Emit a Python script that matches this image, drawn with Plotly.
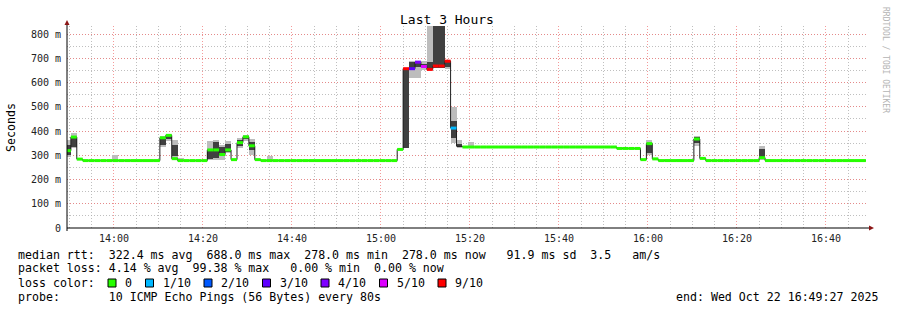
import plotly.graph_objects as go
import pandas as pd

# ---------------- data ----------------
FIRST_STEP = "2025-10-22 13:48:59"   # start of first 80 s consolidation step
RANGE_START = "2025-10-22 13:49:27"
RANGE_END = "2025-10-22 16:49:27"
STEP_S = 80

# median rtt per step (ms)
median_ms = (
    [319, 375, 284] + [278] * 13 +
    [372, 382, 286] + [278] * 5 +
    [322, 322, 303, 322, 282, 352, 376, 339, 282] + [278] * 23 +
    [324, 657, 657, 684, 666, 654, 668, 668, 688, 412, 337] +
    [334] * 26 + [328] * 4 +
    [282, 348, 285] + [278] * 6 + [367, 287] + [278] * 9 + [290] + [278] * 17
)
# packet loss per step in tenths (None = no colored median)
loss_tenths = [0] * 57 + [9, 3, 4, 5, 9, 9, 9, 9, 1, None] + [0] * 68

# smoke (ping spread) for steps that show it, ms
smoke_step = [0, 1, 8, 16, 17, 18, 19, 24, 25, 26, 27, 29, 30, 31, 34,
              57, 58, 59, 60, 61, 62, 63, 64, 65, 66, 68, 93, 98,
              101, 103, 105, 106, 117, 118]
smoke_lo = [293, 330, 282, 335, 360, 285, 279, 279, 282, 280, 308, 330, 357, 302, 279,
            331, 617, 619, 650, 654, 660, 660, 655, 351, 330, 335, 328, 299,
            279, 279, 279, 339, 282, 279]
smoke_hi = [364, 392, 299, 378, 388, 364, 290, 357, 364, 343, 357, 371, 385, 367, 295,
            657, 688, 690, 690, 840, 840, 840, 692, 500, 361, 355, 336, 361,
            285, 285, 285, 380, 339, 286]
core_lo = [302, 336, None, 343, 365, 295, None, 285, 290, 300, 315, 340, 365, 320, None,
           331, 660, 662, 658, 654, 660, 660, 662, 370, 333, None, None, 309,
           None, None, None, 350, 293, None]
core_hi = [343, 372, None, 368, 380, 343, None, 320, 355, 335, 345, 362, 380, 355, None,
           657, 684, 682, 678, 686, 840, 840, 688, 440, 345, None, None, 343,
           None, None, None, 375, 325, None]

loss_levels = [0, 1, 2, 3, 4, 5, 9]
loss_labels = ["0", "1/10", "2/10", "3/10", "4/10", "5/10", "9/10"]
loss_colors = ["#26ff00", "#00b8ff", "#0059ff", "#5e00ff", "#7e00ff", "#dd00ff", "#ff0000"]

y_tick_vals = [0, 0.1, 0.2, 0.3, 0.4, 0.5, 0.6, 0.7, 0.8]
y_tick_text = ["0", "100 m", "200 m", "300 m", "400 m", "500 m", "600 m", "700 m", "800 m"]

stats_rtt = ["322.4", "688.0", "278.0", "278.0", "91.9", "3.5"]
stats_loss = ["4.14", "99.38", "0.00", "0.00"]
probe_text = "10 ICMP Echo Pings (56 Bytes) every 80s"
end_text = "end: Wed Oct 22 16:49:27 2025"
title_text = "Last 3 Hours"

# ---------------- derived ----------------
n = len(median_ms)
starts = pd.date_range(FIRST_STEP, periods=n, freq=f"{STEP_S}s")
step_td = pd.Timedelta(seconds=STEP_S)
end_time = starts[-1] + step_td
step_ms = STEP_S * 1000
med_s = [v / 1000 for v in median_ms]

W, H = 897, 310
L, R, T, B = 67, 868, 26, 228
PW, PH = R - L, B - T


def px(x):
    return (x - L) / PW


def py(y):
    return (B - y) / PH


MONO = "DejaVu Sans Mono"
fig = go.Figure()

# smoke outer
sx = [starts[k] for k in smoke_step]
fig.add_trace(go.Bar(
    x=sx, base=[v / 1000 for v in smoke_lo],
    y=[(h - l) / 1000 for l, h in zip(smoke_lo, smoke_hi)],
    width=step_ms, offset=0, marker=dict(color="#bdbdbd", line=dict(width=0)),
    hoverinfo="skip", showlegend=False))
# smoke core
cx = [starts[k] for k, c in zip(smoke_step, core_lo) if c is not None]
clo = [c for c in core_lo if c is not None]
chi = [c for c in core_hi if c is not None]
fig.add_trace(go.Bar(
    x=cx, base=[v / 1000 for v in clo], y=[(h - l) / 1000 for l, h in zip(clo, chi)],
    width=step_ms, offset=0, marker=dict(color="#404040", line=dict(width=0)),
    hoverinfo="skip", showlegend=False))

# black median line
fig.add_trace(go.Scatter(
    x=list(starts) + [end_time], y=med_s + [med_s[-1]], mode="lines",
    line=dict(color="#202020", width=1, shape="hv"),
    hoverinfo="skip", showlegend=False))

# colored median band, one trace per loss level
for lvl, col in zip(loss_levels, loss_colors):
    xs, ys = [], []
    for k in range(n):
        if loss_tenths[k] != lvl:
            continue
        xs += [starts[k], starts[k] + step_td, None]
        ys += [med_s[k], med_s[k], None]
    if xs:
        fig.add_trace(go.Scatter(
            x=xs, y=ys, mode="lines", line=dict(color=col, width=3),
            connectgaps=False, hoverinfo="skip", showlegend=False))

major_grid = "rgba(240,120,120,0.75)"
minor_grid = "rgba(170,170,170,0.75)"
fig.update_layout(
    width=W, height=H, autosize=False,
    margin=dict(l=L, r=W - R, t=T, b=H - B, autoexpand=False),
    paper_bgcolor="white", plot_bgcolor="white",
    barmode="overlay", bargap=0, showlegend=False,
    font=dict(family=MONO, color="#000000"),
    xaxis=dict(
        type="date", range=[RANGE_START, RANGE_END],
        tick0="2025-10-22 14:00:00", dtick=20 * 60 * 1000, tickformat="%H:%M",
        showgrid=True, gridcolor=major_grid, griddash="1px,2px", gridwidth=1,
        minor=dict(dtick=5 * 60 * 1000, tick0="2025-10-22 14:00:00", showgrid=True,
                   gridcolor=minor_grid, griddash="1px,2px", gridwidth=1),
        showline=False, zeroline=False, ticks="",
        tickfont=dict(family=MONO, size=10, color="#222222"),
        ticklabelstandoff=3, fixedrange=True),
    yaxis=dict(
        range=[0, (B - T) / 24.25 / 10], tickvals=y_tick_vals, ticktext=y_tick_text,
        showgrid=True, gridcolor=major_grid, griddash="1px,2px", gridwidth=1,
        minor=dict(dtick=0.05, tick0=0, showgrid=True, gridcolor=minor_grid,
                   griddash="1px,2px", gridwidth=1),
        showline=False, zeroline=False, ticks="",
        tickfont=dict(family=MONO, size=10, color="#222222"),
        ticklabelstandoff=5, fixedrange=True),
)

# axes lines and arrows
shapes = [
    dict(type="line", xref="paper", yref="paper", x0=px(L), x1=px(870), y0=py(B), y1=py(B),
         line=dict(color="#000000", width=1), layer="above"),
    dict(type="line", xref="paper", yref="paper", x0=px(L), x1=px(L), y0=py(B + 3), y1=py(23),
         line=dict(color="#000000", width=1), layer="above"),
    dict(type="path", xref="paper", yref="paper",
         path=f"M {px(869)} {py(225.5)} L {px(874)} {py(228)} L {px(869)} {py(230.5)} Z",
         fillcolor="#8b1515", line=dict(width=0), layer="above"),
    dict(type="path", xref="paper", yref="paper",
         path=f"M {px(64.5)} {py(25)} L {px(67)} {py(20)} L {px(69.5)} {py(25)} Z",
         fillcolor="#8b1515", line=dict(width=0), layer="above"),
]

CW = 7.0  # legend character width
LFS = 11.6
ann = []


def text_at(x, y, s, anchor="left", size=LFS, color="#000000", angle=0):
    ann.append(dict(xref="paper", yref="paper", x=px(x), y=py(y), text=s, showarrow=False,
                    xanchor=anchor, yanchor="middle", textangle=angle,
                    font=dict(family=MONO, size=size, color=color)))


text_at(447, 19.5, title_text, anchor="center", size=13)
text_at(11, 128, "Seconds", anchor="center", angle=-90)
text_at(886, 60, "RRDTOOL / TOBI OETIKER", anchor="center", size=8, color="#b4b4b4", angle=90)

line1 = (f"median rtt:  {stats_rtt[0]} ms avg  {stats_rtt[1]} ms max  {stats_rtt[2]} ms min  "
         f"{stats_rtt[3]} ms now  {stats_rtt[4]:>5} ms sd  {stats_rtt[5]}   am/s")
line2 = (f"packet loss: {stats_loss[0]} % avg  {stats_loss[1]} % max  {stats_loss[2]:>5} % min  "
         f"{stats_loss[3]} % now")
line4 = f"probe:       {probe_text}"
for s, y in [(line1, 255), (line2, 268), (line4, 297)]:
    text_at(16, y, s.replace(" ", "\u00a0"))
text_at(16, 283, "loss\u00a0color:")
text_at(880, 297, end_text.replace(" ", "\u00a0"), anchor="right")

bx0 = 108
for lab, col in zip(loss_labels, loss_colors):
    shapes.append(dict(type="rect", xref="paper", yref="paper",
                       x0=px(bx0), x1=px(bx0 + 8), y0=py(287), y1=py(279),
                       fillcolor=col, line=dict(color="#000000", width=1), layer="above"))
    lx = bx0 + 15
    text_at(lx, 283, lab)
    bx0 = lx + CW * len(lab) + 15.5

fig.update_layout(shapes=shapes, annotations=ann)
fig.write_html("out.html")
